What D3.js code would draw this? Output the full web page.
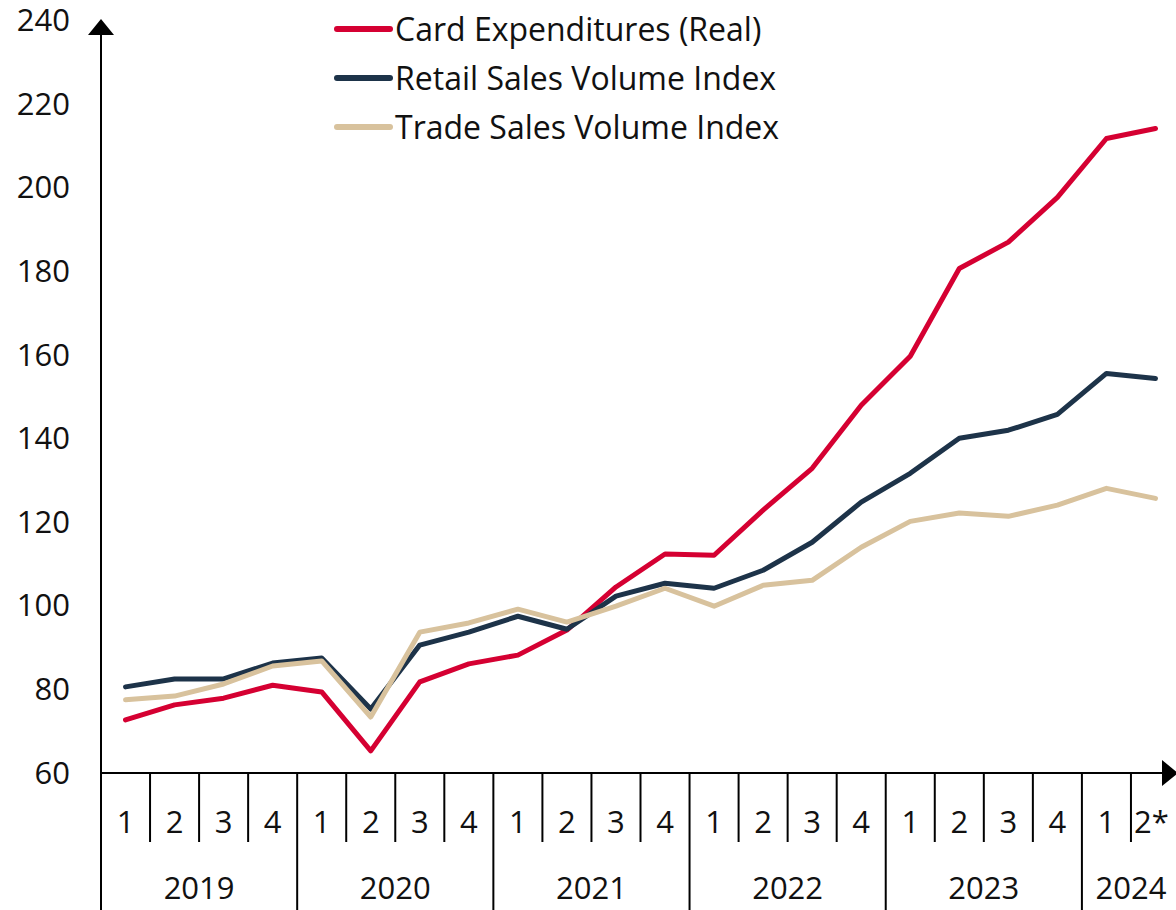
<!DOCTYPE html>
<html>
<head>
<meta charset="utf-8">
<script src="https://cdn.jsdelivr.net/npm/d3@7"></script>
<style>
  body { margin: 0; background: #fff; }
  svg { display: block; font-family: "Open Sans", sans-serif; }
</style>
</head>
<body>
<div id="chart"></div>
<script>
// Quarter labels and years
var years = ["2019", "2020", "2021", "2022", "2023", "2024"];
var quarters = ["1", "2", "3", "4", "1", "2", "3", "4", "1", "2", "3", "4",
                "1", "2", "3", "4", "1", "2", "3", "4", "1", "2*"];
var quarterYears = [0,0,0,0, 1,1,1,1, 2,2,2,2, 3,3,3,3, 4,4,4,4, 5,5];

// Series values
var cardValues = [72.7, 76.3, 77.9, 81.0, 79.4, 65.3, 81.8, 86.1, 88.2, 94.2, 104.5, 112.4,
                  112.1, 122.9, 132.9, 148.0, 159.7, 180.7, 187.0, 197.7, 211.8, 214.2];
var retailValues = [80.6, 82.5, 82.5, 86.3, 87.5, 75.3, 90.6, 93.7, 97.5, 94.4, 102.3, 105.4,
                    104.2, 108.5, 115.2, 124.8, 131.7, 140.1, 142.0, 145.8, 155.6, 154.4];
var tradeValues = [77.5, 78.4, 81.3, 85.6, 86.8, 73.4, 93.7, 95.9, 99.2, 96.1, 99.9, 104.2,
                   99.9, 104.9, 106.1, 114.0, 120.2, 122.2, 121.4, 124.1, 128.1, 125.7];
var yTicks = [60, 80, 100, 120, 140, 160, 180, 200, 220, 240];

var series = [
  { name: "Card Expenditures (Real)", values: cardValues, color: "#d50032" },
  { name: "Retail Sales Volume Index", values: retailValues, color: "#1d3349" },
  { name: "Trade Sales Volume Index", values: tradeValues, color: "#d8c29d" }
];

var width = 1176;
var height = 910;
var x0 = 101, x1 = 1180;
var yBottom = 773, yTop = 20.6;

var svg = d3.select("#chart").append("svg")
  .attr("width", width)
  .attr("height", height);

var x = d3.scaleBand()
  .domain(d3.range(quarters.length))
  .range([x0, x1])
  .padding(0);

var y = d3.scaleLinear()
  .domain([60, 240])
  .range([yBottom, yTop]);

// Y tick labels
svg.append("g").selectAll("text")
  .data(yTicks)
  .enter()
  .append("text")
  .attr("x", 70)
  .attr("y", d => y(d))
  .attr("dy", "0.34em")
  .attr("text-anchor", "end")
  .style("font-size", "31px")
  .style("fill", "#111")
  .text(d => d);

// Lines
var line = d3.line()
  .x((d, i) => x(i) + x.bandwidth() / 2)
  .y(d => y(d));

svg.append("g").selectAll("path")
  .data(series)
  .enter()
  .append("path")
  .attr("d", d => line(d.values))
  .attr("fill", "none")
  .attr("stroke", d => d.color)
  .attr("stroke-width", 5)
  .attr("stroke-linejoin", "round")
  .attr("stroke-linecap", "round");

// Axes
svg.append("line")
  .attr("x1", x0).attr("x2", x0)
  .attr("y1", 34).attr("y2", height)
  .attr("stroke", "#000").attr("stroke-width", 2);
svg.append("path")
  .attr("d", "M" + (x0 - 13) + ",35 L" + x0 + ",19 L" + (x0 + 13) + ",35 Z")
  .attr("fill", "#000");

svg.append("line")
  .attr("x1", x0).attr("x2", 1164)
  .attr("y1", yBottom).attr("y2", yBottom)
  .attr("stroke", "#000").attr("stroke-width", 2);
svg.append("path")
  .attr("d", "M1162," + (yBottom - 13) + " L1178," + yBottom + " L1162," + (yBottom + 13) + " Z")
  .attr("fill", "#000");

// Quarter separators and labels
svg.append("g").selectAll("line")
  .data(d3.range(1, quarters.length))
  .enter()
  .append("line")
  .attr("x1", i => x(i)).attr("x2", i => x(i))
  .attr("y1", yBottom)
  .attr("y2", i => quarterYears[i] !== quarterYears[i - 1] ? height : 842)
  .attr("stroke", "#000").attr("stroke-width", 2);

svg.append("g").selectAll("text")
  .data(quarters)
  .enter()
  .append("text")
  .attr("x", (d, i) => x(i) + x.bandwidth() / 2 + (d === "2*" ? -4 : 0))
  .attr("y", 833)
  .attr("text-anchor", "middle")
  .style("font-size", "31px")
  .style("fill", "#111")
  .text(d => d);

// Year labels
svg.append("g").selectAll("text")
  .data(years)
  .enter()
  .append("text")
  .attr("x", (d, j) => {
    var idx = d3.range(quarters.length).filter(i => quarterYears[i] === j);
    return (x(idx[0]) + x(idx[idx.length - 1]) + x.bandwidth()) / 2;
  })
  .attr("y", 899)
  .attr("text-anchor", "middle")
  .style("font-size", "31px")
  .style("fill", "#111")
  .text(d => d);

// Legend
var legend = svg.append("g").selectAll("g")
  .data(series)
  .enter()
  .append("g")
  .attr("transform", (d, i) => "translate(337," + (29 + i * 49) + ")");

legend.append("line")
  .attr("x1", 0).attr("x2", 53)
  .attr("stroke", d => d.color)
  .attr("stroke-width", 6)
  .attr("stroke-linecap", "round");

legend.append("text")
  .attr("x", 58)
  .attr("dy", "0.36em")
  .style("font-size", "32px")
  .style("fill", "#111")
  .text(d => d.name);
</script>
</body>
</html>
